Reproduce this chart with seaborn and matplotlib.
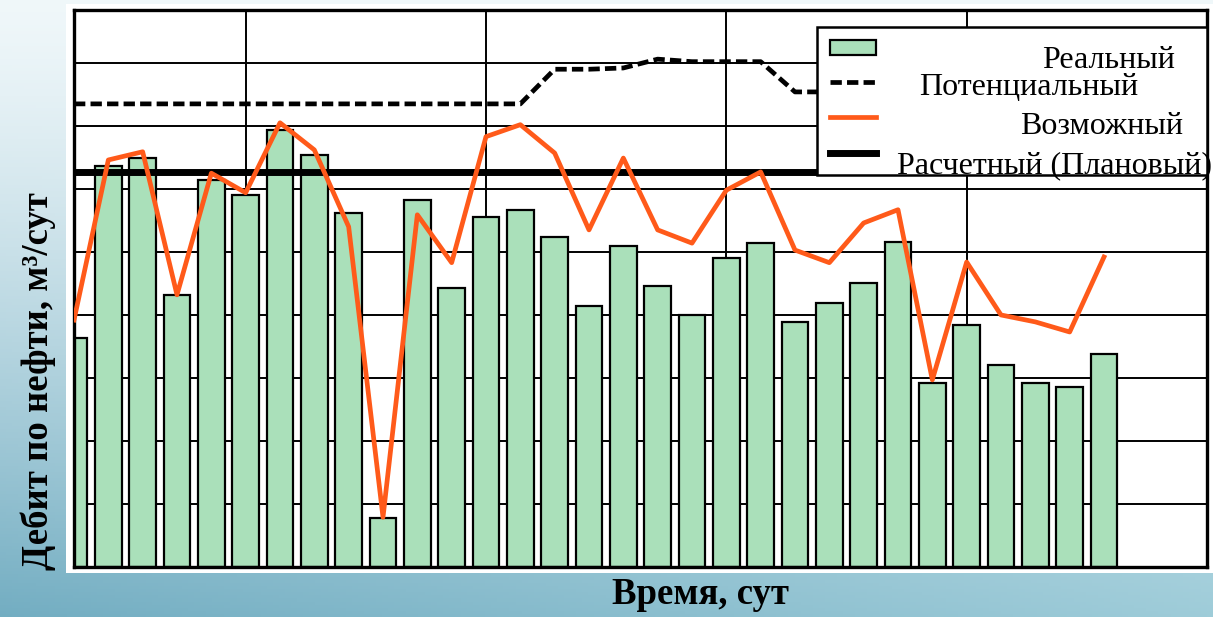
# coding=utf-8
import numpy as np
import pandas as pd
import seaborn as sns
import matplotlib.pyplot as plt
from matplotlib.patches import Rectangle

# данные (условные единицы: 10 на одну линию сетки)
days = list(range(31))
real = [36.3, 63.6, 64.9, 43.2, 61.4, 59.0, 69.4, 65.4, 56.2, 7.8,
        58.3, 44.3, 55.6, 56.7, 52.4, 41.4, 51.0, 44.6, 40.0, 49.0,
        51.4, 38.9, 41.9, 45.1, 51.6, 29.2, 38.4, 32.1, 29.2, 28.6, 33.8]
possible = [39.2, 64.6, 65.9, 43.2, 62.5, 59.4, 70.5, 66.2, 54.0, 7.9,
            55.9, 48.3, 68.3, 70.2, 65.7, 53.5, 64.9, 53.5, 51.4, 59.8,
            62.7, 50.3, 48.3, 54.6, 56.7, 29.7, 48.4, 40.0, 38.9, 37.3, 49.2]
potential_days = list(range(24))
potential = [73.5, 73.5, 73.5, 73.5, 73.5, 73.5, 73.5, 73.5, 73.5, 73.5,
             73.5, 73.5, 73.5, 73.5, 79.0, 79.0, 79.2, 80.6, 80.2, 80.2,
             80.2, 75.4, 75.4, 75.4]
plan = 62.7

series_names = ["Реальный", "Потенциальный", "Возможный", "Расчетный (Плановый)"]
x_label = "Время, сут"
y_label = "Дебит по нефти, м\u00b3/сут"

W, H = 1213, 617
fig = plt.figure(figsize=(W / 100, H / 100), dpi=100)

# фон слайда: голубой градиент + белая подложка под графиком
bg = fig.add_axes([0, 0, 1, 1], zorder=-10)
yy, xx = np.mgrid[0:1:200j, 0:1:200j]
top = np.array([0.94, 0.97, 0.98])
bot_l = np.array([0.45, 0.68, 0.76])
bot_r = np.array([0.62, 0.80, 0.85])
bottom = bot_l[None, None, :] * (1 - xx[..., None]) + bot_r[None, None, :] * xx[..., None]
t = (yy ** 1.3)[..., None]
grad = top[None, None, :] * (1 - t) + bottom * t
bg.imshow(grad, aspect="auto", extent=[0, 1, 0, 1], origin="upper")
bg.add_patch(Rectangle((66 / W, 1 - 573 / H), (W - 66) / W, (573 - 4) / H,
                       facecolor="white", edgecolor="none"))
bg.set_xlim(0, 1)
bg.set_ylim(0, 1)
bg.axis("off")

ax = fig.add_axes([74 / W, 1 - 567 / H, (1207 - 74) / W, (567 - 10) / H])
ax.set_facecolor("white")

df = pd.DataFrame({"day": days, "real": real, "possible": possible})
pot = pd.DataFrame({"day": potential_days, "potential": potential})

sns.barplot(data=df, x="day", y="real", ax=ax, native_scale=True, width=0.78,
            color="#AAE0BA", saturation=1, edgecolor="black", linewidth=1.6,
            label=series_names[0], zorder=2)
sns.lineplot(data=pot, x="day", y="potential", ax=ax, color="black", linewidth=3.4,
             dashes=False, label=series_names[1], zorder=3)
ax.lines[-1].set_dashes((2.4, 1.1))
sns.lineplot(data=df, x="day", y="possible", ax=ax, color="#FF5A1A", linewidth=3.4,
             label=series_names[2], zorder=4)
ax.axhline(plan, color="black", linewidth=5, label=series_names[3], zorder=3.5)

ax.set_xlim(0, 33)
ax.set_ylim(0, 88.4)
ax.set_xticks([5, 12, 19, 26])
ax.set_yticks(np.arange(10, 81, 10))
ax.tick_params(length=0, labelbottom=False, labelleft=False)
ax.grid(True, color="black", linewidth=1.4)
ax.set_axisbelow(True)
for s in ax.spines.values():
    s.set_color("black")
    s.set_linewidth(2.4)

ax.set_xlabel(x_label, fontsize=26.5, fontweight="bold", family="Liberation Serif")
ax.set_ylabel(y_label, fontsize=26.5, fontweight="bold", family="Liberation Serif")
ax.xaxis.label.set_va("baseline")
ax.xaxis.set_label_coords((700 - 74) / 1133, (567 - 604) / 557)
ax.yaxis.label.set_va("center")
ax.yaxis.set_label_coords((38 - 74) / 1133, (567 - 381) / 557)

# легенда: только маркеры, подписи размещены отдельно как на оригинале
handles, labels = ax.get_legend_handles_labels()
by_label = dict(zip(labels, handles))
handles = [by_label[n] for n in series_names]
leg = ax.legend(handles, [""] * len(handles), loc="upper left",
                bbox_to_anchor=((817 - 74) / 1133, 0.3, (1207 - 817) / 1133, (567 - 27) / 557 - 0.3),
                mode="expand", borderaxespad=0, fontsize=10, handlelength=3.3,
                handleheight=1.3, labelspacing=1.47, borderpad=0.92,
                frameon=True, fancybox=False, framealpha=1, edgecolor="black")
leg.get_frame().set_linewidth(1.8)
leg.set_zorder(10)

label_pos = [(1042, 68), (919, 95), (1020, 134), (897, 173)]
for name, (px, py) in zip(series_names, label_pos):
    fig.text(px / W, 1 - py / H, name, fontsize=23, family="Liberation Serif",
             ha="left", va="baseline", zorder=20)

fig.savefig("out.png", dpi=100)
